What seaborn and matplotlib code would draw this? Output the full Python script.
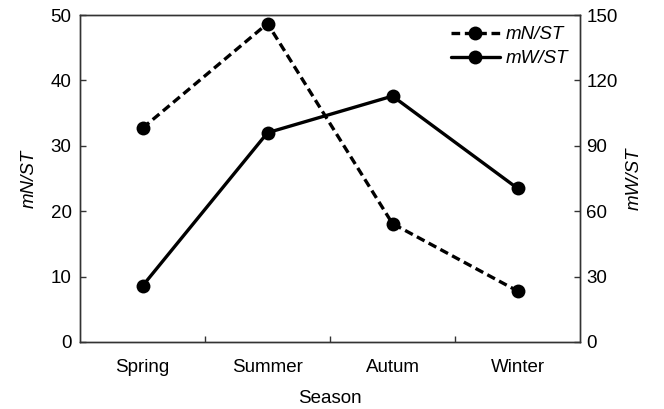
import matplotlib
matplotlib.use("Agg")
import matplotlib.pyplot as plt
import seaborn as sns
import pandas as pd
from matplotlib.lines import Line2D

seasons = ["Spring", "Summer", "Autum", "Winter"]
mn_st = [32.7, 48.7, 18.1, 7.8]
mw_st = [25.7, 96.0, 112.8, 70.5]
left_ticks = [0, 10, 20, 30, 40, 50]
right_ticks = [0, 30, 60, 90, 120, 150]

sns.set_style("ticks")
plt.rcParams['font.family'] = ['Liberation Sans', 'DejaVu Sans']
plt.rcParams['text.color'] = 'black'
plt.rcParams['axes.labelcolor'] = 'black'

fs = 13.5
fig = plt.figure(figsize=(6.64, 4.09), dpi=100)
ax = fig.add_axes([80/664, 1-342/409, 500/664, 327/409])
ax2 = ax.twinx()

x = list(range(len(seasons)))
df = pd.DataFrame({"x": x, "mN": mn_st, "mW": mw_st})

lw = 2.4
ms = 10
sns.lineplot(data=df, x="x", y="mN", ax=ax, color="black", linewidth=lw,
             marker="o", markersize=ms, markeredgewidth=0)
ax.lines[0].set_dashes((2.6, 1.4))
sns.lineplot(data=df, x="x", y="mW", ax=ax2, color="black", linewidth=lw,
             marker="o", markersize=ms, markeredgewidth=0)

ax.set_xlim(-0.5, 3.5)
ax.set_ylim(0, 50)
ax2.set_ylim(0, 150)
ax.set_yticks(left_ticks)
ax2.set_yticks(right_ticks)
ax.set_xticks(x)
ax.set_xticklabels(seasons)
ax.set_xticks([0.5, 1.5, 2.5], minor=True)

for a in (ax, ax2):
    for s in a.spines.values():
        s.set_linewidth(1.0)
        s.set_color("#333333")
        s.set_visible(True)

ax.tick_params(axis="x", which="major", length=0, labelsize=fs, pad=12, labelcolor="black")
ax.tick_params(axis="x", which="minor", direction="in", length=4, width=1, color="#333333")
ax.tick_params(axis="y", direction="in", length=4, width=1, labelsize=fs, pad=6, color="#333333", labelcolor="black")
ax2.tick_params(axis="y", direction="in", length=4, width=1, labelsize=fs, pad=4.5, color="#333333", labelcolor="black")

ax.set_xlabel("Season", fontsize=fs, labelpad=10, color="black")
ax.set_ylabel("mN/ST", fontsize=fs, style="italic", labelpad=9, color="black")
ax2.set_ylabel("mW/ST", fontsize=fs, style="italic", labelpad=6, color="black")

h1 = Line2D([], [], color="black", linewidth=lw, marker="o", markersize=ms,
            markeredgewidth=0, dashes=(2.6, 1.4))
h2 = Line2D([], [], color="black", linewidth=lw, marker="o", markersize=ms,
            markeredgewidth=0)
leg = ax2.legend([h1, h2], ["mN/ST", "mW/ST"], loc="upper right", frameon=False,
                 prop={"style": "italic", "size": fs}, handlelength=2.6,
                 handletextpad=0.35, borderaxespad=0.6, labelspacing=0.35,
                 borderpad=0.0)
for t in leg.get_texts():
    t.set_color("black")

fig.savefig("out.png", dpi=100)
